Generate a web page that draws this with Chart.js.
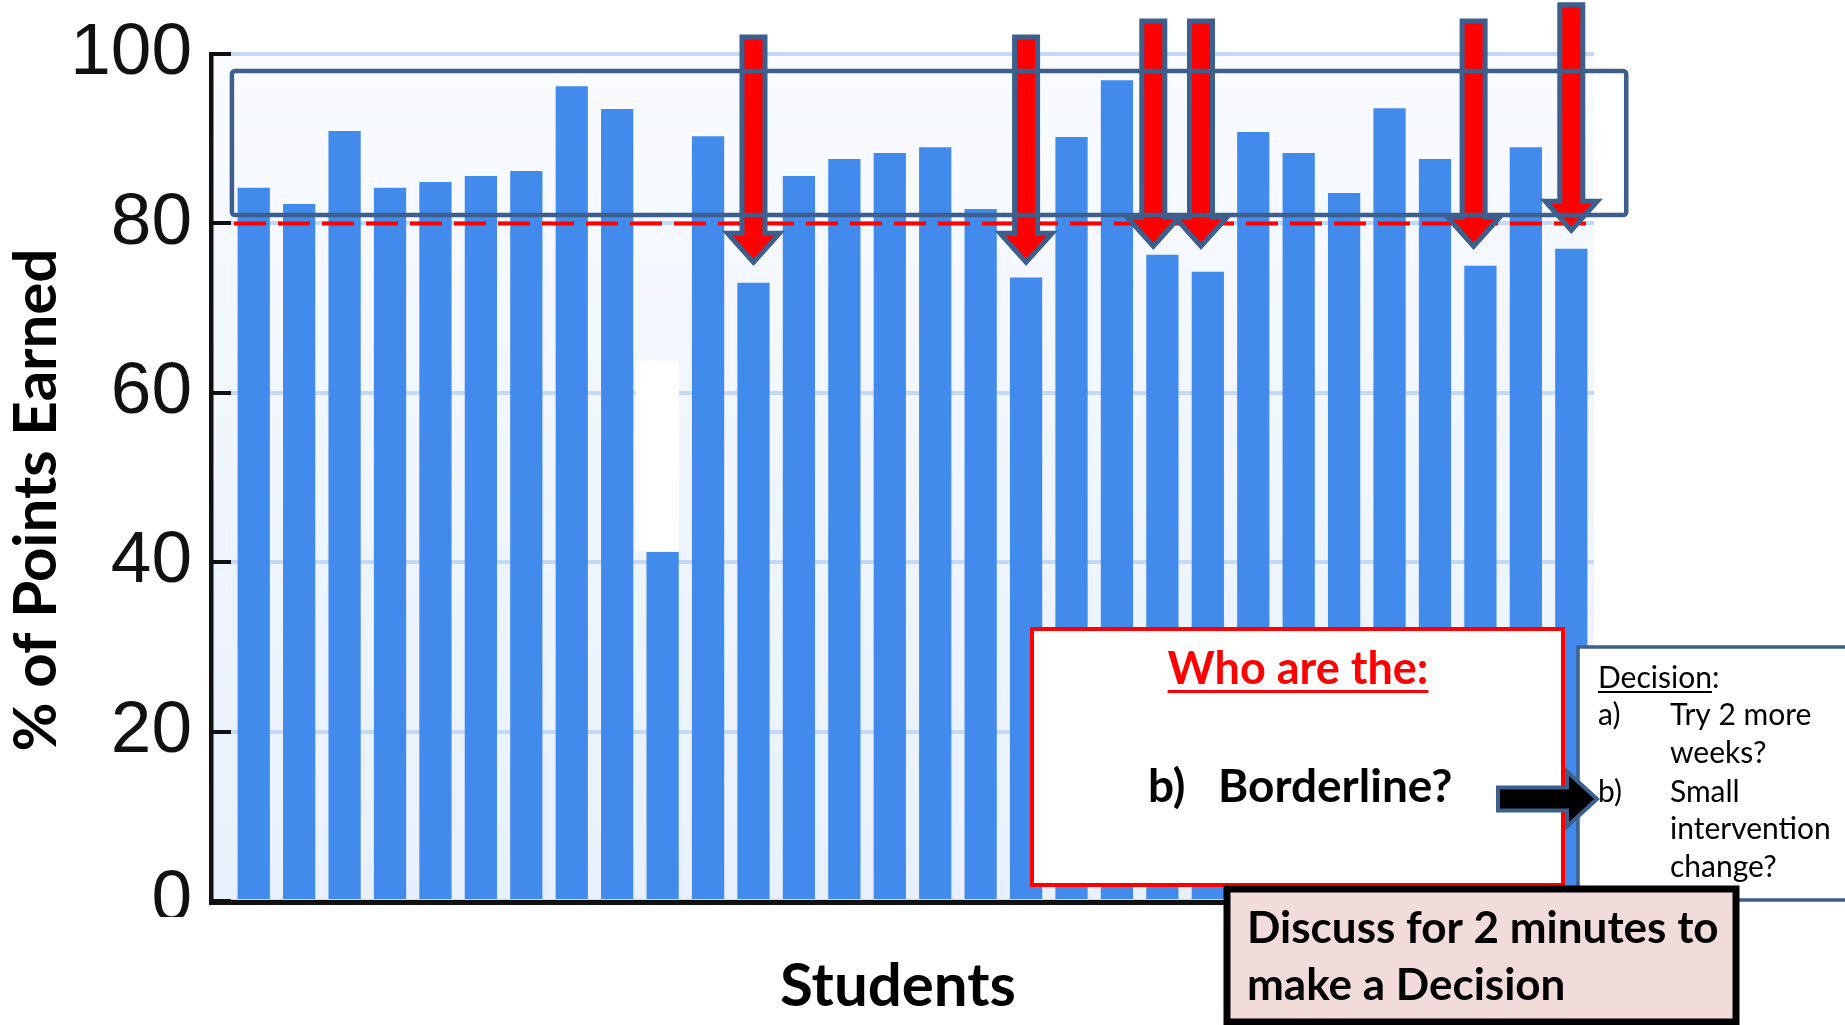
<!DOCTYPE html>
<html>
<head>
<meta charset="utf-8">
<title>% of Points Earned by Student</title>
<script src="https://cdn.jsdelivr.net/npm/chart.js@4.4.1/dist/chart.umd.min.js"></script>
<style>
  html, body { margin: 0; padding: 0; background: #ffffff; }
  canvas { display: block; }
</style>
</head>
<body>
<canvas id="chart" width="1845" height="1025"></canvas>
<script>
// ---- data -------------------------------------------------------------
const students = ['1', '2', '3', '4', '5', '6', '7', '8', '9', '10',
                  '11', '12', '13', '14', '15', '16', '17', '18', '19', '20',
                  '21', '22', '23', '24', '25', '26', '27', '28', '29', '30'];
const pointsEarned = [84.2, 82.3, 90.9, 84.2, 84.9, 85.6, 86.2, 96.2, 93.5, 41.2,
                      90.3, 73.0, 85.6, 87.6, 88.3, 89.0, 81.7, 73.6, 90.2, 96.9,
                      76.3, 74.3, 90.8, 88.3, 83.6, 93.6, 87.6, 75.0, 89.0, 77.0];
const yTicks = [0, 20, 40, 60, 80, 100];
const cutoffScore = 80;
const yTitle = '% of Points Earned';
const xTitle = 'Students';

// band of students just above the cut-off (value range, category range)
const bandValues = [81, 98];
const bandStudents = [-0.48, 30.21];

// borderline students picked out with arrows (category position, start value, tip value)
const flaggedAt = [11, 17, 19.8, 20.85, 26.85, 29];
const flaggedFrom = [102.0, 102.0, 103.9, 103.9, 103.9, 105.8];
const flaggedTo = [75.4, 75.4, 77.3, 77.3, 77.3, 79.2];

// blanked-out part of student 10's column
const maskedStudents = [8.41, 9.36];
const maskedValues = [41.3, 63.8];

// ---- styling constants --------------------------------------------------
const BAR_BLUE = '#428bec';
const FRAME_BLUE = '#3c5f8d';
const TICK_LEN = 20;
const TITLE_FONT = 'bold 60px Lato, "Open Sans", sans-serif';

function downArrow(ctx, x, yTop, yTip) {
  const sw = 23, hw = 52, hl = 29;
  ctx.beginPath();
  ctx.moveTo(x - sw / 2, yTop);
  ctx.lineTo(x + sw / 2, yTop);
  ctx.lineTo(x + sw / 2, yTip - hl);
  ctx.lineTo(x + hw / 2, yTip - hl);
  ctx.lineTo(x, yTip);
  ctx.lineTo(x - hw / 2, yTip - hl);
  ctx.lineTo(x - sw / 2, yTip - hl);
  ctx.closePath();
  ctx.fillStyle = '#ff0000';
  ctx.fill();
  ctx.lineWidth = 5;
  ctx.lineJoin = 'miter';
  ctx.strokeStyle = FRAME_BLUE;
  ctx.stroke();
}

function rightArrow(ctx, x0, yMid, xTip) {
  const sh = 23, hh = 55, hl = 30;
  ctx.beginPath();
  ctx.moveTo(x0, yMid - sh / 2);
  ctx.lineTo(xTip - hl, yMid - sh / 2);
  ctx.lineTo(xTip - hl, yMid - hh / 2);
  ctx.lineTo(xTip, yMid);
  ctx.lineTo(xTip - hl, yMid + hh / 2);
  ctx.lineTo(xTip - hl, yMid + sh / 2);
  ctx.lineTo(x0, yMid + sh / 2);
  ctx.closePath();
  ctx.fillStyle = '#000000';
  ctx.fill();
  ctx.lineWidth = 4;
  ctx.strokeStyle = FRAME_BLUE;
  ctx.stroke();
}

function underlinedText(ctx, text, x, y, align, color, thickness, offset, underlineText) {
  ctx.textAlign = align;
  ctx.textBaseline = 'alphabetic';
  ctx.fillStyle = color;
  ctx.fillText(text, x, y);
  const w = ctx.measureText(text).width;
  const uw = ctx.measureText(underlineText || text).width;
  const left = align === 'center' ? x - w / 2 : x;
  ctx.fillRect(left, y + offset, uw, thickness);
}

// plot backdrop: pale blue panel behind the grid, from the axis line to the right edge
const plotBackdrop = {
  id: 'plotBackdrop',
  beforeDraw(chart) {
    const { ctx, chartArea: a } = chart;
    ctx.save();
    ctx.fillStyle = '#ffffff';
    ctx.fillRect(0, 0, chart.width, chart.height);
    const g = ctx.createLinearGradient(0, a.top, 0, a.bottom);
    g.addColorStop(0, '#f9fbff');
    g.addColorStop(1, '#e7f0fc');
    ctx.fillStyle = g;
    ctx.fillRect(a.left - TICK_LEN, a.top, a.right - a.left + TICK_LEN, a.bottom - a.top);
    ctx.restore();
  }
};

// cut-off line, borderline band, arrows, axis lines and call-outs
const markup = {
  id: 'markup',
  afterDatasetsDraw(chart) {
    const { ctx, chartArea: a } = chart;
    const x = chart.scales.x, y = chart.scales.y;
    ctx.save();

    // blanked column section
    ctx.fillStyle = '#ffffff';
    const mx0 = x.getPixelForValue(maskedStudents[0]);
    const mx1 = x.getPixelForValue(maskedStudents[1]);
    const my0 = y.getPixelForValue(maskedValues[1]);
    const my1 = y.getPixelForValue(maskedValues[0]);
    ctx.fillRect(mx0, my0, mx1 - mx0, my1 - my0);

    // dashed cut-off line
    const cy = y.getPixelForValue(cutoffScore);
    ctx.beginPath();
    ctx.setLineDash([32, 12]);
    ctx.moveTo(a.left + 3, cy);
    ctx.lineTo(a.right, cy);
    ctx.lineWidth = 4;
    ctx.strokeStyle = '#ff0000';
    ctx.stroke();
    ctx.setLineDash([]);

    // arrows onto the borderline students
    flaggedAt.forEach((pos, i) => {
      downArrow(ctx, x.getPixelForValue(pos),
                y.getPixelForValue(flaggedFrom[i]), y.getPixelForValue(flaggedTo[i]));
    });

    // band frame
    const bx0 = x.getPixelForValue(bandStudents[0]);
    const bx1 = x.getPixelForValue(bandStudents[1]);
    const by0 = y.getPixelForValue(bandValues[1]);
    const by1 = y.getPixelForValue(bandValues[0]);
    ctx.beginPath();
    ctx.roundRect(bx0, by0, bx1 - bx0, by1 - by0, 3);
    ctx.lineWidth = 4.5;
    ctx.strokeStyle = FRAME_BLUE;
    ctx.stroke();

    // axis lines
    ctx.fillStyle = '#111111';
    const ax = a.left - TICK_LEN;
    const topY = y.getPixelForValue(yTicks[yTicks.length - 1]);
    ctx.fillRect(ax - 2, topY - 2, 4.5, a.bottom - topY + 4);
    ctx.fillRect(ax - 2, a.bottom - 1, a.right - ax + 2, 5);
    ctx.restore();
  },

  afterDraw(chart) {
    const { ctx } = chart;
    ctx.save();

    // axis titles
    ctx.fillStyle = '#000000';
    ctx.font = TITLE_FONT;
    ctx.textAlign = 'center';
    ctx.textBaseline = 'middle';
    ctx.fillText(xTitle, 898, 987);
    ctx.save();
    ctx.translate(37, 500);
    ctx.rotate(-Math.PI / 2);
    ctx.fillText(yTitle, 0, 0);
    ctx.restore();

    // bottom edge of the figure crops the lowest tick label
    ctx.fillStyle = '#ffffff';
    ctx.fillRect(100, 917, 106, 40);

    // "Who are the:" box
    ctx.fillStyle = '#ffffff';
    ctx.fillRect(1032, 629, 531, 256);
    ctx.lineWidth = 4;
    ctx.strokeStyle = '#ff0000';
    ctx.strokeRect(1032, 629, 531, 256);
    ctx.font = 'bold 45px Lato, "Open Sans", sans-serif';
    underlinedText(ctx, 'Who are the:', 1298, 684, 'center', '#ff0000', 3, 6);
    ctx.fillStyle = '#000000';
    ctx.font = 'bold 46px Lato, "Open Sans", sans-serif';
    ctx.textAlign = 'left';
    ctx.fillText('b)', 1148, 802);
    ctx.fillText('Borderline?', 1218, 802);

    // decision box (runs off the right edge)
    ctx.fillStyle = '#ffffff';
    ctx.fillRect(1578, 647, 320, 253);
    ctx.lineWidth = 3.5;
    ctx.strokeStyle = FRAME_BLUE;
    ctx.strokeRect(1578, 647, 320, 253);
    ctx.font = '30px Lato, "Open Sans", sans-serif';
    underlinedText(ctx, 'Decision:', 1598, 688, 'left', '#000000', 2, 3, 'Decision');
    ctx.fillStyle = '#000000';
    ctx.textAlign = 'left';
    ctx.fillText('a)', 1598, 725);
    ctx.fillText('Try 2 more', 1670, 725);
    ctx.fillText('weeks?', 1670, 763);
    ctx.fillText('b)', 1598, 802);
    ctx.fillText('Small', 1670, 802);
    ctx.fillText('intervention', 1670, 839);
    ctx.fillText('change?', 1670, 877);

    // pointer from the question to option b
    rightArrow(ctx, 1498, 799, 1597);

    // discussion prompt
    ctx.fillStyle = '#f2dcdb';
    ctx.fillRect(1224, 886, 515, 136);
    ctx.lineWidth = 7;
    ctx.strokeStyle = '#000000';
    ctx.strokeRect(1227, 889, 509, 133);
    ctx.fillStyle = '#000000';
    ctx.font = 'bold 44px Lato, "Open Sans", sans-serif';
    ctx.fillText('Discuss for 2 minutes to', 1247, 943);
    ctx.fillText('make a Decision', 1247, 1000);

    ctx.restore();
  }
};

function build() {
  new Chart(document.getElementById('chart'), {
    type: 'bar',
    data: {
      labels: students,
      datasets: [{
        data: pointsEarned,
        backgroundColor: BAR_BLUE,
        borderWidth: 0,
        barPercentage: 0.71,
        categoryPercentage: 1.0
      }]
    },
    options: {
      responsive: false,
      animation: false,
      events: [],
      devicePixelRatio: 1,
      layout: { padding: { top: 54, right: 251, bottom: 0, left: 0 } },
      plugins: {
        legend: { display: false },
        tooltip: { enabled: false },
        title: { display: false }
      },
      scales: {
        x: {
          type: 'category',
          offset: true,
          grid: { display: false, drawTicks: false },
          border: { display: false },
          ticks: { display: false },
          title: { display: false },
          afterFit(scale) { scale.height = 124; }
        },
        y: {
          min: 0,
          max: 100,
          afterBuildTicks(scale) { scale.ticks = yTicks.map(v => ({ value: v })); },
          grid: {
            color: '#c4d9f6',
            lineWidth: 4,
            drawTicks: true,
            tickLength: TICK_LEN,
            tickColor: '#111111',
            tickWidth: 4
          },
          border: { display: false },
          ticks: {
            color: '#111111',
            padding: 19,
            font: { family: '"Liberation Sans", Arial, sans-serif', size: 73 }
          },
          title: { display: false },
          afterFit(scale) {
            scale.width = 231;
            scale.paddingTop = 0;
            scale.paddingBottom = 0;
          }
        }
      }
    },
    plugins: [plotBackdrop, markup]
  });
}

Promise.all([
  document.fonts.load('bold 45px Lato'),
  document.fonts.load('30px Lato'),
  document.fonts.load('73px "Liberation Sans"')
]).catch(() => {}).then(build);
</script>
</body>
</html>
